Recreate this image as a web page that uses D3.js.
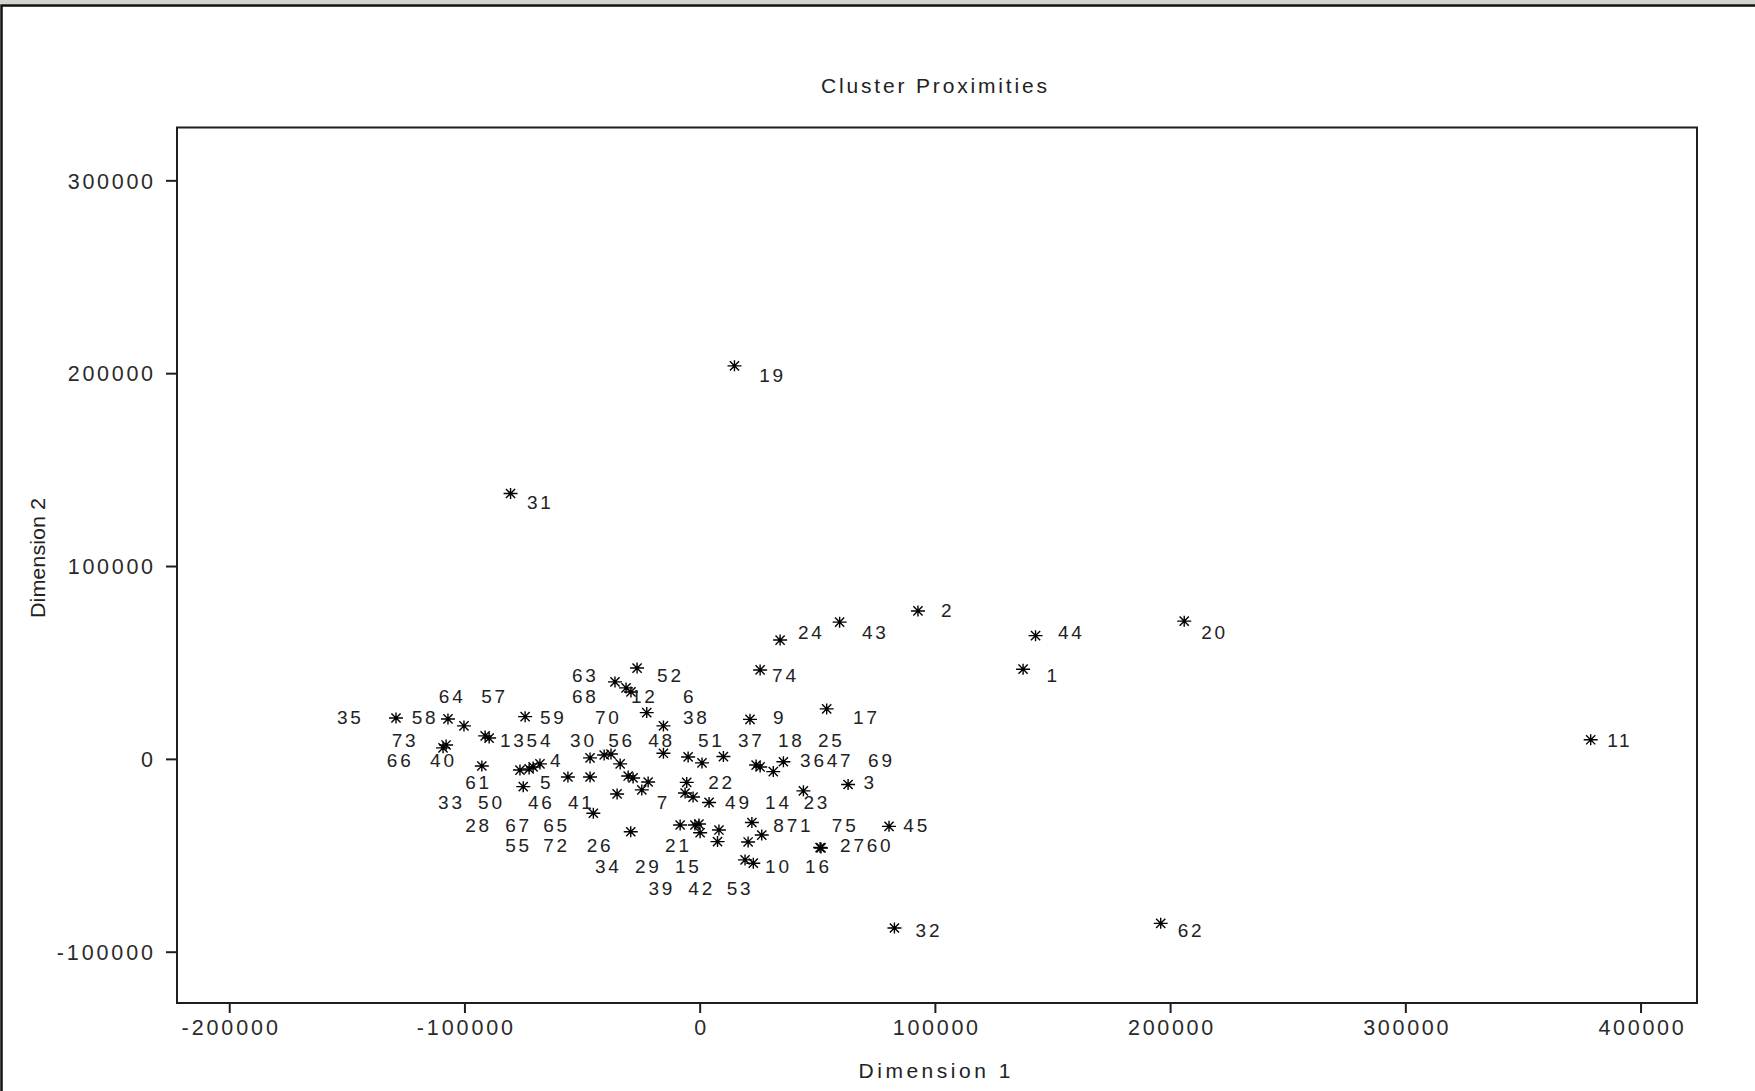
<!DOCTYPE html>
<html>
<head>
<meta charset="utf-8">
<script src="https://cdn.jsdelivr.net/npm/d3@7"></script>
<style>
  body { margin: 0; background: #fff; }
  svg { display: block; font-family: "Liberation Sans", Arial, sans-serif; }
</style>
</head>
<body>
<div id="chart"></div>
<script>
// cluster numbers, 1..75
var pointIds = d3.range(1, 76).map(String);

// Dimension 1 / Dimension 2 of each cluster
var dim1 = [137500, 92800, 63100, -70800, -72500, -29200, -24600, 22200, 21400, 22800,
  378800, -28300, -91200, -2800, 200, 26400, 54000, 25700, 14800, 206000,
  -2000, -5500, 44100, 34200, 35600, -29300, 51200, -56000, 8200, -46600,
  -80400, 82800, -76400, -35100, -129100, 24000, 10100, -15400, -8300, -107800,
  -45200, -300, 59500, 142800, 80500, -75000, 31300, -15400, 4000, -67900,
  -4900, -26600, 7600, -89500, -37700, -40600, -100200, -21900, -74200, 51600,
  -92600, 196000, -36000, -107000, -46600, -6200, -33800, -31300, 1000, -22500,
  20600, -30400, -109100, 25700, 19300];
var dim2 = [46500, 76700, -13300, -4200, -5200, 34700, -16100, -33000, 20500, -54100,
  9900, -9900, 11900, -19800, -38300, -39500, 25900, -4200, 203800, 71400,
  -34300, -12200, -16600, 61600, -1500, -37800, -46000, -9400, -36900, 500,
  137600, -87700, -5800, -18200, 21200, -3200, 1200, 17100, -34300, 7200,
  -28200, -33800, 70900, 63900, -35000, -14400, -6600, 2900, -22600, -2600,
  1000, 47100, -42900, 10800, 2500, 2000, 17100, -12000, 21900, -46200,
  -3700, -85300, 39900, 20700, -9400, -17700, -2600, 36800, -2100, 24000,
  -43100, -8900, 5700, 46100, -52400];

// where the plot put each label (left end of text, in data units)
var labelDim1 = [147500, 102600, 69600, -63600, -67900, -7100, -18200, 31300, 31200, 27800,
  385800, -29200, -84900, 27800, -10500, 44800, 65200, 33300, 25300, 213200,
  -14700, 3600, 44100, 41800, 50300, -48000, 59700, -99700, -27500, -55100,
  -73400, 91800, -111200, -44500, -154200, 42700, 16300, -7100, -21800, -114600,
  -56000, -4800, 69000, 152300, 86600, -73000, 54000, -21900, 10800, -94200,
  -700, -18100, 11500, -73600, -82700, -38900, -92900, -122400, -67900, 71000,
  -99700, 203200, -54300, -110900, -66500, -133000, -82700, -54300, 71600, -44500,
  37000, -66500, -130900, 30800, 56200];
var labelDim2 = [43500, 77200, -12000, -800, -12000, 32400, -22600, -34300, 21500, -55500,
  9800, 32400, 9800, -22600, -55500, -55500, 21500, 9800, 199100, 65600,
  -44700, -12000, -22600, 65600, 9800, -44700, -44700, -34300, -55500, 9800,
  132900, -88700, -22600, -55500, 21500, -800, 9800, 21500, -67200, -800,
  -22600, -67200, 65600, 65600, -34300, -22600, -800, 9800, -22600, -22600,
  9800, 43500, -67200, 9800, -44700, 9800, 32400, 21500, 21500, -44700,
  -12000, -88700, 43500, 32400, -34300, -800, -34300, 32400, -800, 21500,
  -34300, -44700, 9800, 43500, -34300];

var xTicks = [-200000, -100000, 0, 100000, 200000, 300000, 400000];
var yTicks = [-100000, 0, 100000, 200000, 300000];
var xDomain = [-222200, 424000];
var yDomain = [-126600, 327400];

var W = 1755, H = 1091;
var plot = {left: 177, right: 1697, top: 127.5, bottom: 1003};
var ink = "#1e1e1e";

var svg = d3.select("#chart").append("svg")
  .attr("width", W).attr("height", H);

svg.append("rect").attr("width", W).attr("height", H).attr("fill", "#fff");
// window chrome: grey strip and dark frame top/left
svg.append("rect").attr("x", 0).attr("y", 0).attr("width", W).attr("height", 4).attr("fill", "#d6d3ce");
svg.append("path").attr("d", "M1.5," + H + "V5.5H" + W)
  .attr("fill", "none").attr("stroke", "#111").attr("stroke-width", 2.5);

var x = d3.scaleLinear().domain(xDomain).range([plot.left, plot.right]);
var y = d3.scaleLinear().domain(yDomain).range([plot.bottom, plot.top]);

function tickWidth(s) {
  var w = 0;
  for (var i = 0; i < s.length; i++) w += s[i] === "-" ? 11 : 14.8;
  return w - 3.5;
}

var xAxis = svg.append("g")
  .attr("transform", "translate(0," + plot.bottom + ")")
  .call(d3.axisBottom(x).tickValues(xTicks).tickSize(10).tickSizeOuter(0)
    .tickFormat(function(d) { return String(d); }));
var yAxis = svg.append("g")
  .attr("transform", "translate(" + plot.left + ",0)")
  .call(d3.axisLeft(y).tickValues(yTicks).tickSize(11).tickSizeOuter(0)
    .tickFormat(function(d) { return String(d); }));

[xAxis, yAxis].forEach(function(a) {
  a.select(".domain").remove();
  a.selectAll(".tick line").attr("stroke", ink).attr("stroke-width", 2);
  a.selectAll(".tick text")
    .attr("fill", "#2a2a2a")
    .style("font-size", "21.5px")
    .style("font-family", "'Liberation Sans', Arial, sans-serif")
    .each(function() {
      var t = d3.select(this), s = t.text();
      if (s.length > 1) t.attr("textLength", tickWidth(s)).attr("lengthAdjust", "spacing");
    });
});
xAxis.selectAll(".tick text").attr("y", 17).attr("dy", "0.71em");
yAxis.selectAll(".tick text").attr("x", -24).attr("dy", "0.36em");

// plot frame
svg.append("rect")
  .attr("x", plot.left).attr("y", plot.top)
  .attr("width", plot.right - plot.left).attr("height", plot.bottom - plot.top)
  .attr("fill", "none").attr("stroke", ink).attr("stroke-width", 2);

// titles
svg.append("text").attr("x", 934).attr("y", 86).attr("dy", "0.35em")
  .attr("text-anchor", "middle").attr("fill", "#222")
  .style("font-size", "21px").attr("textLength", 226).attr("lengthAdjust", "spacing")
  .text("Cluster Proximities");
svg.append("text").attr("x", 934.5).attr("y", 1071).attr("dy", "0.35em")
  .attr("text-anchor", "middle").attr("fill", "#222")
  .style("font-size", "21px").attr("textLength", 152).attr("lengthAdjust", "spacing")
  .text("Dimension 1");
svg.append("text")
  .attr("transform", "translate(38,558) rotate(-90)")
  .attr("dy", "0.35em").attr("text-anchor", "middle").attr("fill", "#222")
  .style("font-size", "21px").attr("textLength", 120).attr("lengthAdjust", "spacingAndGlyphs")
  .text("Dimension 2");

// points
var pts = pointIds.map(function(id, i) {
  return {id: id, x: dim1[i], y: dim2[i], lx: labelDim1[i], ly: labelDim2[i]};
});

var starPath = "M-7,0H7M0,-5.5V5.5M-4.6,-4.6L4.6,4.6M-4.6,4.6L4.6,-4.6";

svg.append("g").selectAll("path")
  .data(pts).enter().append("path")
  .attr("transform", function(d) { return "translate(" + x(d.x) + "," + y(d.y) + ")"; })
  .attr("d", starPath)
  .attr("fill", "none").attr("stroke", "#000").attr("stroke-width", 1.4);

svg.append("g").selectAll("text")
  .data(pts).enter().append("text")
  .attr("x", function(d) { return x(d.lx); })
  .attr("y", function(d) { return y(d.ly); })
  .attr("dy", "0.36em")
  .attr("fill", "#222")
  .style("font-size", "19px")
  .style("letter-spacing", "2.8px")
  .text(function(d) { return d.id; });
</script>
</body>
</html>
